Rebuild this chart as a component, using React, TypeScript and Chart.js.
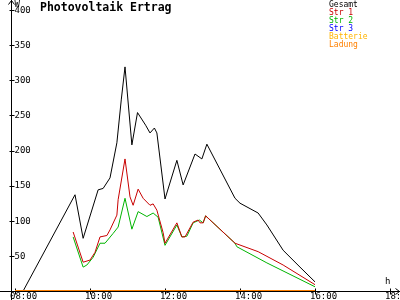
import React, { useEffect, useRef } from "react";
import { Chart, registerables } from "chart.js";

Chart.register(...registerables);

const title = "Photovoltaik Ertrag";
const seriesNames = ["Gesamt", "Str 1", "Str 2", "Str 3", "Batterie", "Ladung"];
const seriesColors = ["#000000", "#c80000", "#00b400", "#0000ff", "#ffb400", "#ff8000"];
const seriesOrder = [1, 2, 3, 4, 5, 0];

const xTickValues = [8, 10, 12, 14, 16, 18];
const xTickLabels = ["08:00", "10:00", "12:00", "14:00", "16:00", "18:00"];
const yTickValues = [50, 100, 150, 200, 250, 300, 350, 400];
const yTickLabels = ["50", "100", "150", "200", "250", "300", "350", "400"];

const gesamtTimes = ["08:13", "09:36", "09:49", "10:13", "10:21", "10:32", "10:43", "10:50", "10:56", "11:07", "11:16", "11:29", "11:36", "11:43", "11:47", "12:00", "12:19", "12:29", "12:48", "12:59", "13:07", "13:52", "14:00", "14:29", "14:43", "15:09", "15:36", "16:00"];
const gesamtValues = [0, 137, 75, 144, 146, 161, 211, 272, 319, 208, 254, 236, 225, 232, 225, 131, 186, 151, 195, 188, 209, 132, 125, 111, 94, 58, 34, 13];

const str1Times = ["09:33", "09:49", "10:00", "10:08", "10:16", "10:27", "10:32", "10:43", "10:45", "10:56", "11:04", "11:09", "11:17", "11:25", "11:36", "11:41", "11:47", "11:57", "12:00", "12:19", "12:27", "12:32", "12:45", "12:53", "12:56", "13:01", "13:05", "13:52", "14:29", "15:09", "16:00"];
const str1Values = [84, 41, 44, 55, 77, 79, 87, 108, 130, 188, 134, 122, 145, 132, 122, 124, 115, 83, 68, 97, 77, 77, 98, 101, 97, 97, 107, 68, 56, 37, 9];

const str2Times = ["09:33", "09:49", "09:55", "10:05", "10:16", "10:24", "10:37", "10:45", "10:56", "11:07", "11:17", "11:31", "11:41", "11:49", "12:00", "12:19", "12:27", "12:35", "12:45", "12:55", "13:01", "13:05", "13:52", "13:55", "14:43", "16:00"];
const str2Values = [77, 34, 37, 48, 68, 68, 82, 91, 132, 88, 113, 106, 111, 105, 65, 94, 77, 78, 97, 101, 97, 107, 68, 63, 40, 6];

const str3Times: string[] = [];
const str3Values: number[] = [];

const batterieTimes = ["08:00", "16:00"];
const batterieValues = [0, 0];

const ladungTimes = ["08:00", "16:00"];
const ladungValues = [0, 0];

const toHours = (s: string) => {
  const [h, m] = s.split(":").map(Number);
  return h + m / 60;
};

const toPoints = (times: string[], values: number[]) =>
  times.map((t, i) => ({ x: toHours(t), y: values[i] }));

const MONO = "'DejaVu Sans Mono', 'Liberation Mono', monospace";

const decorPlugin = {
  id: "decor",
  beforeDatasetsDraw(chart: any) {
    const ctx = chart.ctx;
    const xs = chart.scales.x;
    const ys = chart.scales.y;
    const y0 = Math.round(ys.getPixelForValue(0)) + 0.5;
    const ax = Math.round(xs.getPixelForValue(8)) - 4 + 0.5;
    ctx.save();
    ctx.strokeStyle = "#000";
    ctx.lineWidth = 1;
    ctx.beginPath();
    ctx.moveTo(ax, 0);
    ctx.lineTo(ax, 300);
    ctx.moveTo(ax, 0.5);
    ctx.lineTo(ax - 3, 4.5);
    ctx.moveTo(ax, 0.5);
    ctx.lineTo(ax + 3, 4.5);
    ctx.moveTo(0, y0);
    ctx.lineTo(400, y0);
    ctx.moveTo(399.5, y0);
    ctx.lineTo(395.5, y0 - 3);
    ctx.moveTo(399.5, y0);
    ctx.lineTo(395.5, y0 + 3);
    yTickValues.forEach((v) => {
      const py = Math.round(ys.getPixelForValue(v)) + 0.5;
      ctx.moveTo(ax - 2, py);
      ctx.lineTo(ax + 3, py);
    });
    xTickValues.forEach((v) => {
      const px = Math.round(xs.getPixelForValue(v)) + 0.5;
      ctx.moveTo(px, y0 - 3);
      ctx.lineTo(px, y0 + 3);
    });
    ctx.stroke();

    ctx.fillStyle = "#000";
    ctx.font = `9px ${MONO}`;
    ctx.textAlign = "left";
    ctx.textBaseline = "middle";
    yTickValues.forEach((v, i) => {
      const py = ys.getPixelForValue(v);
      ctx.fillText(yTickLabels[i], ax + 3, py + 0.5);
    });
    ctx.textBaseline = "top";
    xTickValues.forEach((v, i) => {
      const px = xs.getPixelForValue(v);
      ctx.fillText(xTickLabels[i], px - 5, y0 + 1);
    });
    ctx.fillText("W", ax + 3, 0);
    ctx.fillText("h", 385, 277);
    ctx.restore();
  },
  afterDraw(chart: any) {
    const ctx = chart.ctx;
    ctx.save();
    ctx.fillStyle = "#000";
    ctx.font = `bold 11.5px ${MONO}`;
    ctx.textAlign = "left";
    ctx.textBaseline = "top";
    ctx.fillText(title, 40, 2);
    ctx.font = `8px ${MONO}`;
    chart.data.datasets.forEach((ds: any, i: number) => {
      ctx.fillStyle = ds.borderColor;
      ctx.fillText(ds.label, 329, 1 + i * 8);
    });
    ctx.restore();
  },
};

export default function App() {
  const ref = useRef<HTMLCanvasElement | null>(null);
  useEffect(() => {
    document.body.style.margin = "0";
    const all = [
      toPoints(gesamtTimes, gesamtValues),
      toPoints(str1Times, str1Values),
      toPoints(str2Times, str2Values),
      toPoints(str3Times, str3Values),
      toPoints(batterieTimes, batterieValues),
      toPoints(ladungTimes, ladungValues),
    ];
    const chart = new Chart(ref.current as HTMLCanvasElement, {
      type: "line",
      data: {
        datasets: all.map((d, i) => ({
          label: seriesNames[i],
          data: d,
          borderColor: seriesColors[i],
          backgroundColor: seriesColors[i],
          borderWidth: i >= 4 ? 2 : 1,
          order: seriesOrder[i],
          pointRadius: 0,
          tension: 0,
          fill: false,
        })),
      },
      options: {
        animation: false,
        responsive: false,
        devicePixelRatio: 1,
        layout: { padding: { left: 15, right: 10, top: 10, bottom: 9 } },
        plugins: {
          legend: { display: false },
          tooltip: { enabled: false },
          title: { display: false },
        },
        scales: {
          x: { type: "linear", min: 8, max: 18, display: false },
          y: { type: "linear", min: 0, max: 400, display: false },
        },
      },
      plugins: [decorPlugin],
    });
    return () => chart.destroy();
  }, []);
  return (
    <div style={{ width: 400, height: 300, background: "#fff" }}>
      <canvas ref={ref} width={400} height={300} />
    </div>
  );
}
